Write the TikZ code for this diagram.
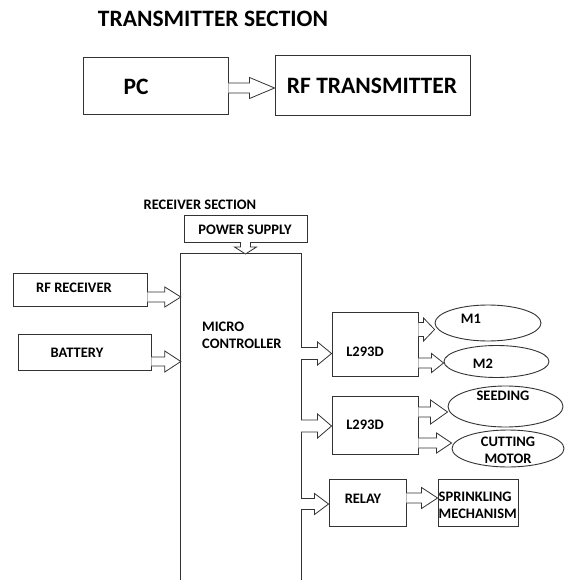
\documentclass[tikz,border=0pt]{standalone}
\usepackage{fontspec}
\setmainfont{Carlito}
\usetikzlibrary{shapes.geometric,calc}
\tikzset{
  box/.style={draw=black!80,line width=0.9pt,rectangle,inner sep=0pt,fill=white},
  oval/.style={draw=black!80,line width=0.9pt,ellipse,inner sep=0pt},
  txt/.style={inner sep=0pt,font=\fontsize{14.5}{17}\selectfont\bfseries,text=black},
  bigtxt/.style={inner sep=0pt,font=\fontsize{23.5}{27}\selectfont\bfseries,text=black},
  arr/.style={draw=black!80,line width=0.8pt,fill=white,line join=miter},
}
% horizontal block arrow: start, end, shaft half width, head half width, head length
\newcommand\barrow[5]{%
  \draw[arr] let \p1=#1, \p2=#2 in
    (\x1,\y1+#3) -- (\x2-#5,\y1+#3) -- (\x2-#5,\y1+#4) -- (\x2,\y1) --
    (\x2-#5,\y1-#4) -- (\x2-#5,\y1-#3) -- (\x1,\y1-#3);}
\begin{document}
\begin{tikzpicture}[x=1pt,y=-1pt]
\useasboundingbox[fill=white] (0,0) rectangle (564,580);
% ---------- transmitter ----------
\node[bigtxt] (ttl) at (213,19) {TRANSMITTER SECTION};
\node[box,minimum width=145pt,minimum height=57pt] (pc) at (155.5,85.5) {};
\node[bigtxt] (pct) at (136,87) {PC};
\node[box,minimum width=195pt,minimum height=60pt] (rft) at (372.5,85) {};
\node[bigtxt] (rftt) at (372,86) {RF TRANSMITTER};
\barrow{(pc.east |- 0,88)}{(rft.west |- 0,88)}{5pt}{10.5pt}{25pt}
% ---------- receiver ----------
\node[txt] (rst) at (200,205) {RECEIVER SECTION};
\node[box,minimum width=123pt,minimum height=27pt] (ps) at (245.5,228.5) {};
\node[txt] (pst) at (245,230) {POWER SUPPLY};
\node[rectangle,inner sep=0pt,minimum width=120pt,minimum height=340pt] (mc) at (241,424) {};
\draw[black!80,line width=0.9pt] (mc.south west) -- (mc.north west) -- (mc.north east) -- (mc.south east);
\node[txt,anchor=west,align=left] (mct) at (202,335.5) {MICRO\\CONTROLLER};
% power supply arrow (vertical)
\draw[arr] let \p1=(ps.south |- 0,242), \p2=(mc.north |- 0,254) in
  (\x1-5pt,\y1) -- (\x1-5pt,\y2+7pt) -- (\x1-11pt,\y2+7pt) -- (\x1,\y2) --
  (\x1+11pt,\y2+7pt) -- (\x1+5pt,\y2+7pt) -- (\x1+5pt,\y1);
\node[box,minimum width=134pt,minimum height=33pt] (rfr) at (80,289.5) {};
\node[txt] (rfrt) at (74,288) {RF RECEIVER};
\node[box,minimum width=133pt,minimum height=36pt] (bat) at (84.5,352) {};
\node[txt] (batt) at (77,353) {BATTERY};
\barrow{(rfr.east |- 0,297)}{(mc.west |- 0,297)}{5pt}{10pt}{16pt}
\barrow{(bat.east |- 0,361.5)}{(mc.west |- 0,361.5)}{4.5pt}{10.5pt}{16pt}
% drivers
\node[box,minimum width=86pt,minimum height=64pt] (l1) at (375,344) {};
\node[txt] (l1t) at (365,352) {L293D};
\node[box,minimum width=86pt,minimum height=58pt] (l2) at (375,425) {};
\node[txt] (l2t) at (365,425) {L293D};
\node[box,minimum width=77pt,minimum height=47pt] (rl) at (367.5,502.5) {};
\node[txt] (rlt) at (363,499) {RELAY};
\barrow{(mc.east |- 0,353.5)}{(l1.west |- 0,353.5)}{6pt}{11.5pt}{14pt}
\barrow{(mc.east |- 0,426)}{(l2.west |- 0,426)}{6pt}{12pt}{14pt}
\barrow{(mc.east |- 0,504)}{(rl.west |- 0,504)}{5.5pt}{10.5pt}{14pt}
% outputs
\node[oval,minimum width=106pt,minimum height=36pt] (m1) at (488,323) {};
\node[txt] (m1t) at (471,319) {M1};
\node[oval,minimum width=105pt,minimum height=32pt] (m2) at (496.5,361.5) {};
\node[txt] (m2t) at (483,364) {M2};
\node[oval,minimum width=115pt,minimum height=41pt] (sd) at (505.5,406.5) {};
\node[txt] (sdt) at (503,396) {SEEDING};
\node[oval,minimum width=112pt,minimum height=37pt] (ct) at (508,448.5) {};
\node[txt,align=center] (ctt) at (508,450) {CUTTING\\MOTOR};
\node[box,minimum width=80pt,minimum height=47pt] (sp) at (478,502.5) {};
\node[txt,anchor=west,align=left] (spt) at (438.5,505) {SPRINKLING\\MECHANISM};
\barrow{(l1.east |- 0,329.5)}{(m1.west |- 0,329.5)}{7pt}{11.5pt}{11pt}
\barrow{(l1.east |- 0,363)}{(m2.west |- 0,363)}{5pt}{9.5pt}{12pt}
\barrow{(l2.east |- 0,412)}{(sd.west |- 0,412)}{5pt}{12pt}{17pt}
\barrow{(l2.east |- 0,443)}{(ct.west |- 0,443)}{5pt}{10pt}{15pt}
\barrow{(rl.east |- 0,498)}{(sp.west |- 0,498)}{5pt}{10.5pt}{16pt}
\end{tikzpicture}
\end{document}
